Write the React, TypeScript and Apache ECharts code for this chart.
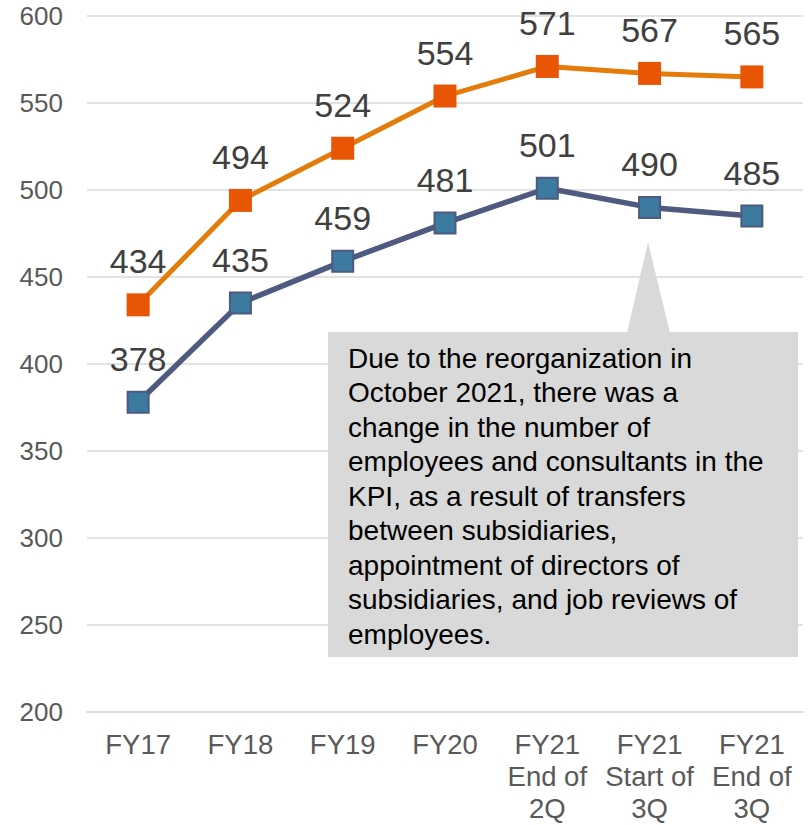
import React, { useEffect, useRef } from "react";
import * as echarts from "echarts";

const categories = [
  "FY17",
  "FY18",
  "FY19",
  "FY20",
  "FY21\nEnd of\n2Q",
  "FY21\nStart of\n3Q",
  "FY21\nEnd of\n3Q",
];
const orangeValues = [434, 494, 524, 554, 571, 567, 565];
const blueValues = [378, 435, 459, 481, 501, 490, 485];
const noteLines = [
  "Due to the reorganization in",
  "October 2021, there was a",
  "change in the number of",
  "employees and consultants in the",
  "KPI, as a result of transfers",
  "between subsidiaries,",
  "appointment of directors of",
  "subsidiaries, and job reviews of",
  "employees.",
];

export default function App() {
  const ref = useRef<HTMLDivElement>(null);
  useEffect(() => {
    if (!ref.current) return;
    const chart = echarts.init(ref.current, null, { renderer: "svg" });
    const font = "Arial, 'Liberation Sans', sans-serif";
    const labelStyle = {
      show: true,
      position: "top" as const,
      distance: 15,
      fontSize: 34,
      lineHeight: 34,
      color: "#404040",
      fontFamily: font,
    };
    chart.setOption({
      animation: false,
      backgroundColor: "#ffffff",
      grid: {
        left: 87,
        right: 9,
        top: 16,
        bottom: 113,
        containLabel: false,
        outerBoundsMode: "none",
      },
      xAxis: {
        type: "category",
        data: categories,
        boundaryGap: true,
        axisLine: { show: true, lineStyle: { color: "#D9D9D9", width: 1.5 } },
        axisTick: { show: false },
        axisLabel: {
          color: "#595959",
          fontSize: 27.5,
          lineHeight: 32,
          fontFamily: font,
          margin: 16,
          interval: 0,
        },
      },
      yAxis: {
        type: "value",
        min: 200,
        max: 600,
        interval: 50,
        axisLine: { show: false },
        axisTick: { show: false },
        splitLine: { lineStyle: { color: "#D9D9D9", width: 1.5 } },
        axisLabel: {
          color: "#595959",
          fontSize: 26,
          fontFamily: font,
          margin: 24,
        },
      },
      series: [
        {
          type: "line",
          data: orangeValues,
          symbol: "rect",
          symbolSize: 23,
          lineStyle: { color: "#E47C0C", width: 5 },
          itemStyle: { color: "#E85504", borderWidth: 0 },
          label: labelStyle,
          z: 3,
        },
        {
          type: "line",
          data: blueValues,
          symbol: "rect",
          symbolSize: 21,
          lineStyle: { color: "#4E5A80", width: 5.5 },
          itemStyle: { color: "#3C7AA0", borderColor: "#4E5A80", borderWidth: 2 },
          label: labelStyle,
          z: 3,
        },
      ],
      graphic: [
        {
          type: "polygon",
          z: 10,
          shape: {
            points: [
              [648, 242],
              [627, 333],
              [670, 333],
            ],
          },
          style: { fill: "#D9D9D9" },
        },
        {
          type: "rect",
          z: 10,
          shape: { x: 328, y: 332, width: 470, height: 325 },
          style: { fill: "#D9D9D9" },
        },
        {
          type: "text",
          z: 11,
          x: 348,
          y: 341,
          style: {
            text: noteLines.join("\n"),
            fontSize: 28,
            lineHeight: 34.5,
            fontFamily: font,
            fill: "#000000",
          },
        },
      ],
    });
    return () => chart.dispose();
  }, []);
  return (
    <div
      ref={ref}
      style={{ position: "fixed", left: 0, top: 0, width: 812, height: 825 }}
    />
  );
}
